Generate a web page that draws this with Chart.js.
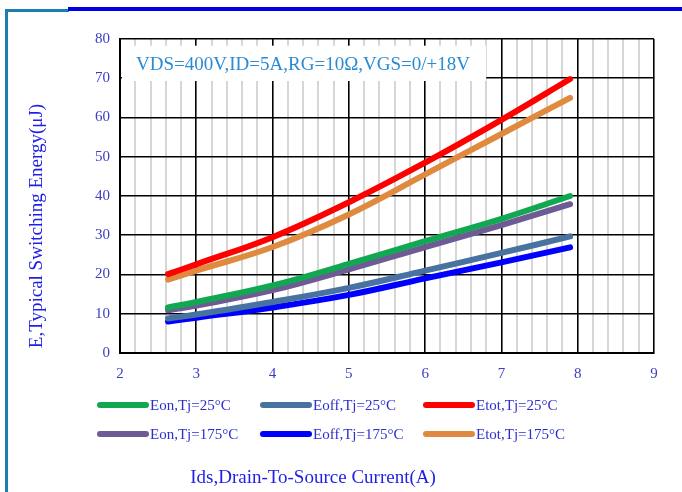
<!DOCTYPE html>
<html><head><meta charset="utf-8">
<script src="https://cdn.jsdelivr.net/npm/chart.js@4/dist/chart.umd.min.js"></script>
<style>html,body{margin:0;padding:0;background:#fff;overflow:hidden}#wrap{position:relative;width:682px;height:492px}</style>
</head><body><div id="wrap"><canvas id="c" width="682" height="492"></canvas></div>
<script>
// Drain current (A) sample points
const currents = [2.63, 3, 4, 5, 6, 7, 7.9];
// Switching energies (uJ)
const eon25   = [11.6, 13.0, 17.2, 22.7, 28.5, 34.2, 40.0];
const eoff25  = [8.8, 9.8, 13.0, 16.6, 21.0, 25.5, 29.7];
const etot25  = [20.1, 22.6, 29.5, 38.4, 48.5, 59.4, 69.8];
const eon175  = [10.9, 12.1, 16.0, 21.3, 27.0, 32.6, 37.9];
const eoff175 = [8.0, 9.0, 11.6, 14.8, 19.0, 23.1, 26.9];
const etot175 = [18.7, 21.0, 27.0, 35.3, 45.5, 55.8, 65.0];
const seriesLabels = ['Eon,Tj=25°C', 'Eoff,Tj=25°C', 'Etot,Tj=25°C', 'Eon,Tj=175°C', 'Eoff,Tj=175°C', 'Etot,Tj=175°C'];
const seriesColors = ['#12a852', '#48729f', '#ff0000', '#6e5a94', '#0000ff', '#e08a40'];
const xTickValues = [2, 3, 4, 5, 6, 7, 8, 9];
const yTickValues = [0, 10, 20, 30, 40, 50, 60, 70, 80];
const conditionText = 'VDS=400V,ID=5A,RG=10Ω,VGS=0/+18V';
const xTitle = 'Ids,Drain-To-Source Current(A)';
const yTitle = 'E,Typical Switching Energy(μJ)';

const seriesValues = [eon25, eoff25, etot25, eon175, eoff175, etot175];
const SERIF = '"Liberation Serif","Times New Roman",serif';

const datasets = seriesValues.map((vals, i) => ({
  label: seriesLabels[i],
  data: currents.map((x, j) => ({x: x, y: vals[j]})),
  borderColor: seriesColors[i],
  backgroundColor: seriesColors[i],
  borderWidth: 6,
  borderCapStyle: 'round',
  borderJoinStyle: 'round',
  pointRadius: 0,
  tension: 0.4,
  fill: false
}));

const isInt = v => Math.abs(v - Math.round(v)) < 1e-6;

const decor = {
  id: 'decor',
  beforeDraw(chart) {
    const ctx = chart.ctx;
    ctx.save();
    ctx.fillStyle = '#ffffff';
    ctx.fillRect(0, 0, chart.width, chart.height);
    ctx.fillStyle = '#1a7fae';
    ctx.fillRect(5, 9, 64, 3);
    ctx.fillRect(5, 9, 3, chart.height - 9);
    ctx.fillStyle = '#0000e6';
    ctx.fillRect(68, 7, chart.width - 68, 4);
    ctx.restore();
  },
  beforeDatasetsDraw(chart) {
    const ctx = chart.ctx;
    const xs = chart.scales.x, ys = chart.scales.y;
    const left = xs.left + 2, right = xs.getPixelForValue(6.8);
    const top = ys.getPixelForValue(78.3), bottom = ys.getPixelForValue(69.3);
    ctx.save();
    ctx.fillStyle = '#ffffff';
    ctx.fillRect(left, top, right - left, bottom - top);
    ctx.fillStyle = '#2a8ad2';
    ctx.font = '19px ' + SERIF;
    ctx.textAlign = 'center';
    ctx.textBaseline = 'middle';
    ctx.fillText(conditionText, 303, ys.getPixelForValue(73.3));
    ctx.restore();
  },
  afterDraw(chart) {
    const ctx = chart.ctx;
    ctx.save();
    // legend
    const colX = [100, 263, 426];
    const rowY = [405, 434];
    ctx.font = '15px ' + SERIF;
    ctx.textBaseline = 'middle';
    ctx.textAlign = 'left';
    chart.data.datasets.forEach((ds, i) => {
      const cx = colX[i % 3], cy = rowY[Math.floor(i / 3)];
      ctx.strokeStyle = ds.borderColor;
      ctx.lineWidth = 6;
      ctx.lineCap = 'round';
      ctx.beginPath();
      ctx.moveTo(cx, cy);
      ctx.lineTo(cx + 46, cy);
      ctx.stroke();
      ctx.fillStyle = '#2e2ed0';
      ctx.fillText(ds.label, cx + 50, cy + 1);
    });
    // axis titles
    ctx.fillStyle = '#1e1ee6';
    ctx.font = '19px ' + SERIF;
    ctx.textAlign = 'center';
    ctx.textBaseline = 'middle';
    ctx.fillText(xTitle, 313, 478);
    ctx.translate(37, 226);
    ctx.rotate(-Math.PI / 2);
    ctx.fillText(yTitle, 0, 0);
    ctx.restore();
  }
};

new Chart(document.getElementById('c'), {
  type: 'line',
  data: { datasets },
  options: {
    responsive: false,
    animation: false,
    devicePixelRatio: 1,
    layout: { padding: { left: 0, top: 39, right: 28, bottom: 0 } },
    plugins: { legend: { display: false }, tooltip: { enabled: false } },
    scales: {
      x: {
        type: 'linear',
        min: xTickValues[0],
        max: xTickValues[xTickValues.length - 1],
        afterFit(s) { s.height = 139; },
        border: { display: true, color: '#000', width: 2 },
        grid: {
          drawTicks: false,
          color: c => isInt(c.tick.value) ? '#000000' : '#d6d6d6',
          lineWidth: c => isInt(c.tick.value) ? 1.6 : 2
        },
        ticks: {
          stepSize: 0.2,
          maxTicksLimit: 100,
          autoSkip: false,
          maxRotation: 0,
          padding: 12,
          color: '#3c3cc4',
          font: { family: SERIF, size: 15 },
          callback: v => (isInt(v) && xTickValues.includes(Math.round(v))) ? String(Math.round(v)) : ''
        }
      },
      y: {
        type: 'linear',
        min: yTickValues[0],
        max: yTickValues[yTickValues.length - 1],
        afterFit(s) { s.width = 120; },
        border: { display: true, color: '#000', width: 2 },
        grid: { drawTicks: false, color: '#000000', lineWidth: 1.6 },
        ticks: {
          stepSize: 10,
          padding: 10,
          color: '#3c3cc4',
          font: { family: SERIF, size: 15 },
          callback: v => yTickValues.includes(v) ? String(v) : ''
        }
      }
    }
  },
  plugins: [decor]
});
</script></body></html>
